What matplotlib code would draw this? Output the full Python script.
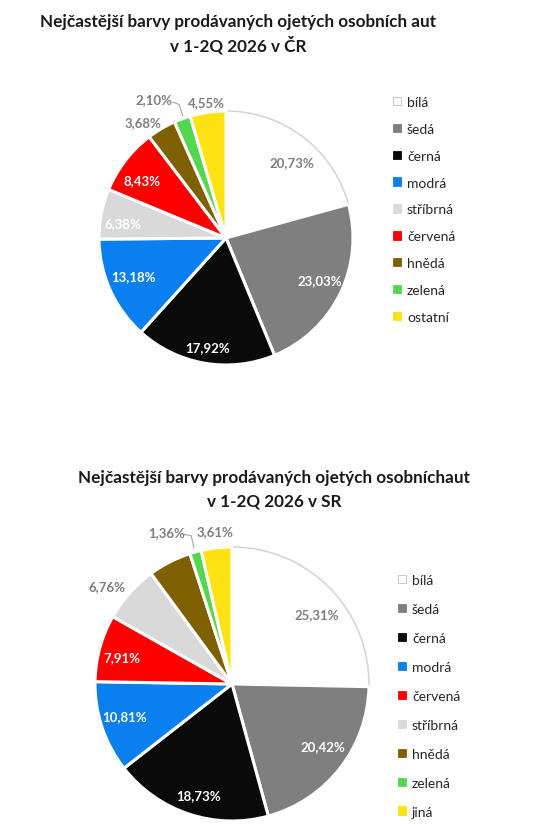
import numpy as np
import matplotlib
matplotlib.use('Agg')
import matplotlib.pyplot as plt
from matplotlib.patches import Patch

plt.rcParams['font.family'] = ['Lato', 'DejaVu Sans']

# --- data ---
cz_labels = ['bílá', 'šedá', 'černá', 'modrá', 'stříbrná', 'červená', 'hnědá', 'zelená', 'ostatní']
cz_values = [20.73, 23.03, 17.92, 13.18, 6.38, 8.43, 3.68, 2.10, 4.55]

sk_labels = ['bílá', 'šedá', 'černá', 'modrá', 'červená', 'stříbrná', 'hnědá', 'zelená', 'jiná']
sk_values = [25.31, 20.42, 18.73, 10.81, 7.91, 6.76, 5.09, 1.36, 3.61]
sk_shown = [True, True, True, True, True, True, False, True, True]  # hnědá has no label in the source

color_map = {
    'bílá': '#ffffff', 'šedá': '#7f7f7f', 'černá': '#0a0a0a', 'modrá': '#0a80f0',
    'stříbrná': '#d9d9d9', 'červená': '#ff0000', 'hnědá': '#7f6000',
    'zelená': '#55d650', 'ostatní': '#ffe212', 'jiná': '#ffe212',
}
txt_gray = '#7f7f7f'

W, H = 550, 829
fig = plt.figure(figsize=(W / 100, H / 100), dpi=100)


def fig_box(cx, cy, r):
    # axes rectangle in figure fraction from pixel centre/radius
    return [(cx - r) / W, (H - cy - r) / H, 2 * r / W, 2 * r / H]


def draw_pie(ax, labels, values, dists, label_colors, shown, angle_shift):
    colors = [color_map[l] for l in labels]
    wedges, _ = ax.pie(values, colors=colors, startangle=90, counterclock=False,
                       wedgeprops=dict(edgecolor='white', linewidth=2.2))
    for w, l in zip(wedges, labels):
        if l == 'bílá':
            w.set_edgecolor('#d0d0d0')
            w.set_linewidth(1.0)
            w.set_zorder(0.5)
    total = sum(values)
    cum = 0
    pos = []
    for i, v in enumerate(values):
        mid = 90 - (cum + v / 2) / total * 360 + angle_shift[i]
        cum += v
        a = np.deg2rad(mid)
        x, y = dists[i] * np.cos(a), dists[i] * np.sin(a)
        pos.append((x, y))
        if shown[i]:
            ax.text(x, y, f'{values[i]:.2f}%'.replace('.', ','), ha='center', va='center',
                    fontsize=9.5, fontweight='bold', color=label_colors[i])
    ax.set_xlim(-1, 1)
    ax.set_ylim(-1, 1)
    ax.set_aspect('equal')
    ax.axis('off')
    return pos


def make_legend(labels, x, y, spacing):
    handles = [Patch(facecolor=color_map[l], edgecolor='#bfbfbf' if l == 'bílá' else color_map[l],
                     linewidth=0.6) for l in labels]
    fig.legend(handles, labels, loc='upper left', bbox_to_anchor=(x / W, 1 - y / H),
               frameon=False, fontsize=10, handlelength=0.55, handleheight=0.55,
               handletextpad=0.45, labelspacing=spacing, borderaxespad=0, borderpad=0,
               labelcolor='#262626')


def title(lines, cx, ys):
    for line, y in zip(lines, ys):
        fig.text(cx / W, 1 - y / H, line, ha='center', va='center',
                 fontsize=12.3, fontweight='bold', color='#1a1a1a')


# --- top pie (ČR) ---
ax1 = fig.add_axes(fig_box(226, 239, 127))
cz_dist = [0.79, 0.81, 0.87, 0.79, 0.82, 0.80, 1.12, 1.23, 1.08]
cz_shift = [-3.7, 2, 0, -2, 3, 3, 5, 7.4, 0]
cz_lcol = [txt_gray, 'white', 'white', 'white', 'white', 'white', txt_gray, txt_gray, txt_gray]
p = draw_pie(ax1, cz_labels, cz_values, cz_dist, cz_lcol, [True] * 9, cz_shift)
gx, gy = p[7]
ax1.plot([gx + 0.15, gx + 0.2, gx + 0.23], [gy - 0.02, gy - 0.04, gy - 0.13],
         color='#a6a6a6', lw=0.8, clip_on=False)

title(['Nejčastější barvy prodávaných ojetých osobních aut', 'v 1-2Q 2026 v ČR'], 238, [22, 45])
make_legend(cz_labels, 393, 97, 1.07)

# --- bottom pie (SR) ---
ax2 = fig.add_axes(fig_box(232, 685, 137))
sk_dist = [0.80, 0.80, 0.85, 0.82, 0.83, 1.16, 0.8, 1.21, 1.12]
sk_shift = [-5, 3.6, 1.4, -2, 1.4, 3.5, 0, 7.8, 0]
sk_lcol = [txt_gray, 'white', 'white', 'white', 'white', txt_gray, 'white', txt_gray, txt_gray]
p = draw_pie(ax2, sk_labels, sk_values, sk_dist, sk_lcol, sk_shown, sk_shift)
gx, gy = p[7]
ax2.plot([gx + 0.13, gx + 0.18, gx + 0.2], [gy - 0.02, gy - 0.03, gy - 0.12],
         color='#a6a6a6', lw=0.8, clip_on=False)

title(['Nejčastější barvy prodávaných ojetých osobníchaut', 'v 1-2Q 2026 v SR'], 274, [478, 502])
make_legend(sk_labels, 398, 575, 1.22)

fig.savefig('out.png', dpi=100, facecolor='white')
